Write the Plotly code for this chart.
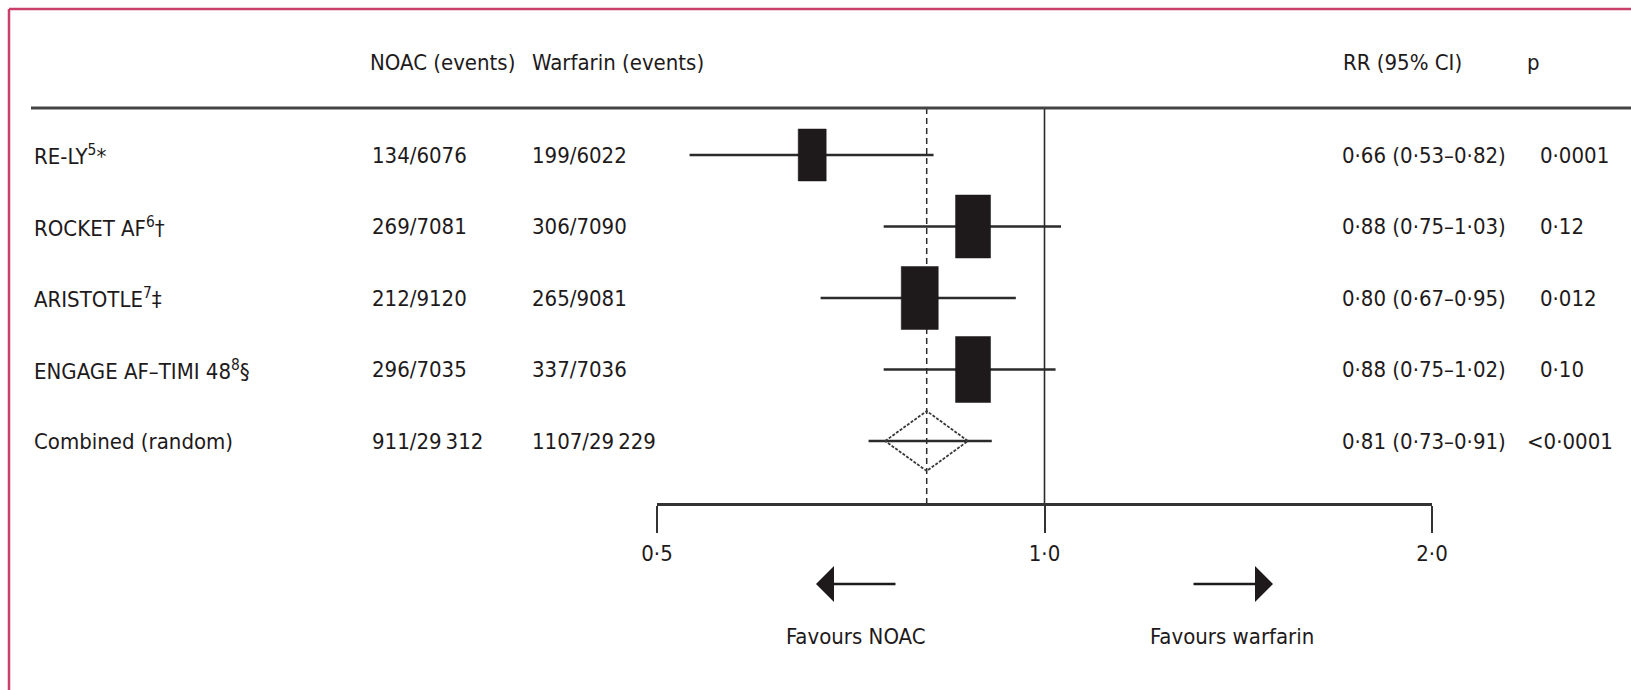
import math
import plotly.graph_objects as go

# ---------------- data ----------------
studies = [
    "RE-LY<sup>5</sup>*",
    "ROCKET AF<sup>6</sup>†",
    "ARISTOTLE<sup>7</sup>‡",
    "ENGAGE AF–TIMI 48<sup>8</sup>§",
    "Combined (random)",
]
noac_events = ["134/6076", "269/7081", "212/9120", "296/7035", "911/29\u2009312"]
warfarin_events = ["199/6022", "306/7090", "265/9081", "337/7036", "1107/29\u2009229"]
rr = [0.66, 0.88, 0.80, 0.88, 0.81]
ci_lo = [0.53, 0.75, 0.67, 0.75, 0.73]
ci_hi = [0.82, 1.03, 0.95, 1.02, 0.91]
p_values = ["0·0001", "0·12", "0·012", "0·10", "<0·0001"]
diamond_range = [0.752, 0.872]
tick_vals = [0.5, 1.0, 2.0]
tick_text = ["0·5", "1·0", "2·0"]
headers = ["NOAC (events)", "Warfarin (events)", "RR (95% CI)", "p"]
favours = ["Favours NOAC", "Favours warfarin"]

# ---------------- layout / style ----------------
W, H = 1631, 690
FONT = "DejaVu Sans Condensed, Liberation Sans Narrow, sans-serif"
FS = 22
TXT = "#1e1a1b"
LINE = "#2b2b2b"
AX_L_PX, AX_R_PX = 657, 1432          # pixel span of 0.5 .. 2.0
PX_PER_DEC = (AX_R_PX - AX_L_PX) / math.log10(4)
ROW0_PX, ROW_STEP = 155, 71.5
BOX_W_PX = [28, 35, 37, 35]
BOX_H_PX = [52, 63, 63, 66]
DIAMOND_H_PX = 30
COL_LABEL, COL_NOAC, COL_WARF, COL_RR, COL_P = 32, 370, 530, 1340, 1538


def py(px):
    return (px - ROW0_PX) / ROW_STEP


def pxp(px):
    return px / W


def pyp(px):
    return 1 - px / H


fig = go.Figure()

n = len(studies)
combined = n - 1

# reference vertical lines
fig.add_trace(go.Scatter(x=[1.0, 1.0], y=[py(108), py(504)], mode="lines",
                         line=dict(color=LINE, width=1.6), hoverinfo="skip"))
fig.add_trace(go.Scatter(x=[rr[combined], rr[combined]], y=[py(108), py(504)], mode="lines",
                         line=dict(color=LINE, width=1.5, dash="6px,4px"), hoverinfo="skip"))

# CI whiskers
for i in range(n):
    fig.add_trace(go.Scatter(x=[ci_lo[i], ci_hi[i]], y=[i, i], mode="lines",
                             line=dict(color=LINE, width=2.3), hoverinfo="skip"))

# boxes
bx, by = [], []
for i in range(combined):
    f = 10 ** (BOX_W_PX[i] / 2 / PX_PER_DEC)
    hh = BOX_H_PX[i] / 2 / ROW_STEP
    x0, x1 = rr[i] / f, rr[i] * f
    bx += [x0, x1, x1, x0, x0, None]
    by += [i - hh, i - hh, i + hh, i + hh, i - hh, None]
fig.add_trace(go.Scatter(x=bx, y=by, mode="lines", fill="toself", fillcolor=TXT,
                         line=dict(color=TXT, width=0.5), hoverinfo="skip"))

# diamond
dh = DIAMOND_H_PX / ROW_STEP
fig.add_trace(go.Scatter(
    x=[diamond_range[0], rr[combined], diamond_range[1], rr[combined], diamond_range[0]],
    y=[combined, combined - dh, combined, combined + dh, combined],
    mode="lines", line=dict(color="#3a3a3a", width=1.8, dash="3px,1.5px"),
    hoverinfo="skip"))

annotations = []


def txt(x, y, s, xanchor="left", yref="y"):
    annotations.append(dict(x=x, y=y, xref="paper", yref=yref, text=s, showarrow=False,
                            xanchor=xanchor, yanchor="middle",
                            font=dict(family=FONT, size=FS, color=TXT)))


# headers
hy = pyp(62)
txt(pxp(COL_NOAC - 2), hy, headers[0], yref="paper")
txt(pxp(COL_WARF), hy, headers[1], yref="paper")
txt(pxp(COL_RR + 1), hy, headers[2], yref="paper")
txt(pxp(COL_P - 13), hy, headers[3], yref="paper")

for i in range(n):
    txt(pxp(COL_LABEL), i, studies[i])
    txt(pxp(COL_NOAC), i, noac_events[i])
    txt(pxp(COL_WARF), i, warfarin_events[i])
    rr_txt = f"{rr[i]:.2f} ({ci_lo[i]:.2f}–{ci_hi[i]:.2f})".replace(".", "·")
    txt(pxp(COL_RR), i, rr_txt)
    pv = p_values[i]
    # decimal alignment: a leading "<" hangs to the left of the column
    txt(pxp(COL_P - 13 if pv.startswith("<") else COL_P), i, pv)

# favours labels
txt(pxp(856), pyp(636), favours[0], xanchor="center", yref="paper")
txt(pxp(1232), pyp(636), favours[1], xanchor="center", yref="paper")

# arrows
for tip, ax in [(816, 81), (1273, -81)]:
    annotations.append(dict(x=pxp(tip), y=pyp(584), xref="paper", yref="paper",
                            ax=ax, ay=0, text="", showarrow=True, arrowhead=1,
                            arrowsize=2.4, arrowwidth=2.5, arrowcolor=TXT, standoff=0))

shapes = [
    # frame (top + left)
    dict(type="line", xref="paper", yref="paper", x0=pxp(9), x1=1, y0=pyp(9), y1=pyp(9),
         line=dict(color="#c9416a", width=2.5)),
    dict(type="line", xref="paper", yref="paper", x0=pxp(9), x1=pxp(9), y0=pyp(9), y1=0,
         line=dict(color="#c9416a", width=2.5)),
    # header rule
    dict(type="line", xref="paper", yref="paper", x0=pxp(31), x1=1, y0=pyp(108), y1=pyp(108),
         line=dict(color="#444444", width=3)),
]

fig.update_layout(
    template="none", autosize=False,
    width=W, height=H, margin=dict(l=0, r=0, t=0, b=0, pad=0),
    paper_bgcolor="white", plot_bgcolor="white", showlegend=False,
    annotations=annotations, shapes=shapes,
    xaxis=dict(type="log", domain=[pxp(AX_L_PX), pxp(AX_R_PX)],
               range=[math.log10(tick_vals[0]), math.log10(tick_vals[-1])],
               anchor="free", position=pyp(504), automargin=False,
               showline=True, linewidth=2.5, linecolor="#333333",
               ticks="outside", ticklen=27, tickwidth=1.5, tickcolor="#333333",
               tickmode="array", tickvals=tick_vals, ticktext=tick_text,
               tickfont=dict(family=FONT, size=FS, color=TXT), ticklabelstandoff=2,
               showgrid=False, zeroline=False, fixedrange=True),
    yaxis=dict(range=[py(H), py(0)], domain=[0, 1], visible=False, showgrid=False,
               zeroline=False, fixedrange=True, automargin=False),
)

fig.write_html("out.html", include_plotlyjs=True,
               config={"responsive": False, "displayModeBar": False},
               post_script="document.body.style.margin='0';document.body.style.overflow='hidden';")
